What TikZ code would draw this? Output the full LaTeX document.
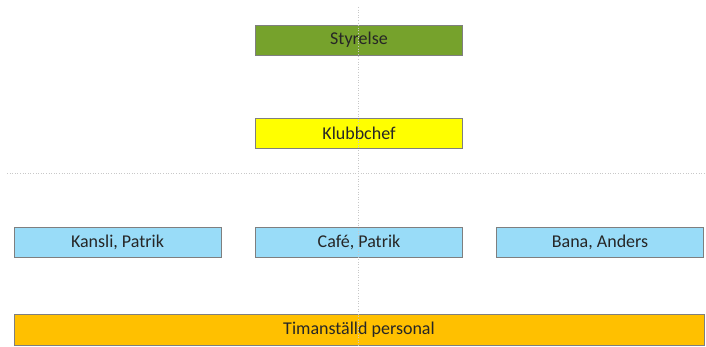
\documentclass[tikz,border=0pt]{standalone}
\usepackage{fontspec}
\setmainfont{Carlito}
\usepackage{xcolor}
\definecolor{boardgreen}{HTML}{76A22C}
\definecolor{chiefyellow}{HTML}{FFFF00}
\definecolor{unitblue}{HTML}{99DCF8}
\definecolor{staffgold}{HTML}{FFC000}
\definecolor{edgegray}{HTML}{7F7F7F}
\definecolor{guidegray}{HTML}{C8C8C8}

\begin{document}
\begin{tikzpicture}[x=1pt,y=-1pt,
                    every node/.style={font=\fontsize{18}{20}\selectfont, text=black!85},
                    orgbox/.style={draw=edgegray, line width=0.8pt, minimum height=30pt,
                                   minimum width=207pt, inner sep=0pt},
                    guide/.style={guidegray, line width=0.6pt, dotted}]
        \useasboundingbox (0,0) rectangle (706,347);
        % top levels
        \node[orgbox, fill=boardgreen]  (styrelse)  at (359,40)    {Styrelse};
        \node[orgbox, fill=chiefyellow] (klubbchef) at (359,133)   {Klubbchef};
        % units
        \node[orgbox, fill=unitblue]    (kansli)    at (117.5,242.5) {Kansli, Patrik};
        \node[orgbox, fill=unitblue]    (cafe)      at (359,242.5)   {Café, Patrik};
        \node[orgbox, fill=unitblue]    (bana)      at (600,242.5)   {Bana, Anders};
        % staff
        \node[orgbox, fill=staffgold, minimum width=690pt, minimum height=31pt]
                                        (timpers)   at (359,329.5) {Timanställd personal};
        % guide lines
        \coordinate (gtop) at (358,7);
        \coordinate (gbot) at (358,347);
        \coordinate (gleft) at (7,173);
        \coordinate (gright) at (706,173);
        \draw[guide] (gtop) -- (gbot);
        \draw[guide] (gleft) -- (gright);
      \end{tikzpicture}
\end{document}
